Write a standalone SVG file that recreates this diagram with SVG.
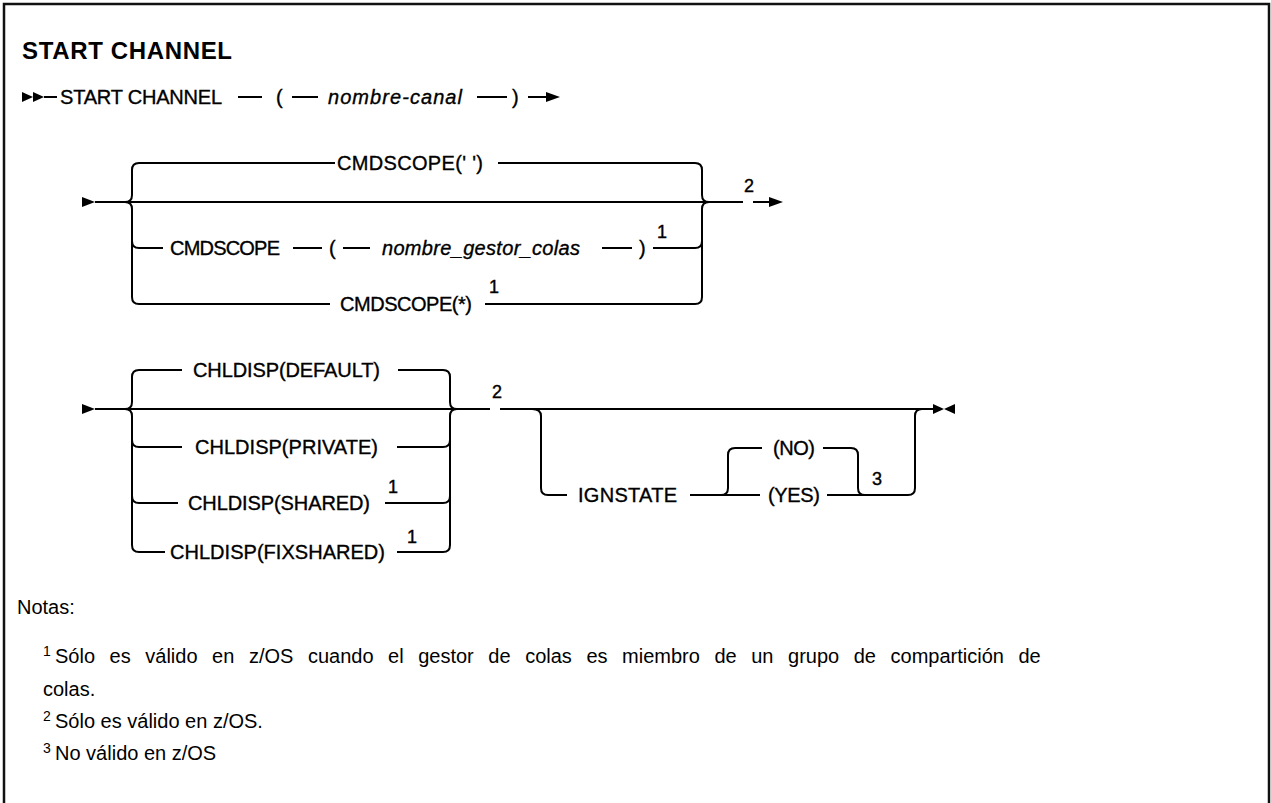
<svg xmlns="http://www.w3.org/2000/svg" width="1271" height="803" viewBox="0 0 1271 803">
<style>
.t{font-family:"Liberation Sans",Arial,sans-serif;font-size:20px;fill:#000;stroke:#000;stroke-width:0.35px}
.i{font-style:italic}
.ti{font-family:"Liberation Sans",Arial,sans-serif;font-size:24px;font-weight:bold;fill:#000}
.s{font-family:"Liberation Sans",Arial,sans-serif;font-size:18px;fill:#000;stroke:#000;stroke-width:0.4px}
.n{font-family:"Liberation Sans",Arial,sans-serif;font-size:20px;fill:#000}
.ns{font-family:"Liberation Sans",Arial,sans-serif;font-size:14px;fill:#000}
.c{fill:none;stroke:#000;stroke-width:2}
.m{fill:#000;stroke:none}
</style>
<rect x="0" y="0" width="1271" height="803" fill="#fff"/>
<path d="M4,803 V4 H1269 V803" fill="none" stroke="#111" stroke-width="2.5"/>
<text class="ti" x="22" y="59" textLength="210">START CHANNEL</text>

<g id="connectors">
  <!-- row 1 -->
  <polygon class="m" points="22,92 33,97 22,102"/>
  <polygon class="m" points="33,92 44,97 33,102"/>
  <path class="c" d="M44,97 H57 M238,97 H262 M292,97 H318 M477,97 H507 M528,97 H548"/>
  <polygon class="m" points="546,92 560,97 546,102"/>
  <!-- section 1 -->
  <polygon class="m" points="82,197 95,202 82,207"/>
  <path class="c" d="M95,202 H743 M753,202 H772"/>
  <polygon class="m" points="769,197 783,202 769,207"/>
  <path class="c" d="M125,202 Q132,202 132,195 V170 Q132,163 139,163 H335"/>
  <path class="c" d="M125,202 Q132,202 132,209 V297 Q132,304 139,304 H330"/>
  <path class="c" d="M132,241 Q132,248 139,248 H163"/>
  <path class="c" d="M498,163 H695 Q702,163 702,170 V195 Q702,202 709,202"/>
  <path class="c" d="M485,304 H695 Q702,304 702,297 V209 Q702,202 709,202"/>
  <path class="c" d="M653,248 H695 Q702,248 702,241"/>
  <path class="c" d="M293,248 H322 M343,248 H370 M602,248 H632"/>
  <!-- section 2 -->
  <polygon class="m" points="82,404 95,409 82,414"/>
  <path class="c" d="M95,409 H490 M500,409 H933"/>
  <path class="c" d="M125,409 Q132,409 132,402 V377 Q132,370 139,370 H182"/>
  <path class="c" d="M125,409 Q132,409 132,416 V545 Q132,552 139,552 H165"/>
  <path class="c" d="M132,440 Q132,447 139,447 H182"/>
  <path class="c" d="M132,496 Q132,503 139,503 H178"/>
  <path class="c" d="M398,370 H443 Q450,370 450,377 V402 Q450,409 457,409"/>
  <path class="c" d="M397,552 H443 Q450,552 450,545 V416 Q450,409 457,409"/>
  <path class="c" d="M397,447 H443 Q450,447 450,440"/>
  <path class="c" d="M385,503 H443 Q450,503 450,496"/>
  <!-- ignstate -->
  <path class="c" d="M532,409 Q541,409 541,416 V488 Q541,495 548,495 H567"/>
  <path class="c" d="M690,495 H760"/>
  <path class="c" d="M721,495 Q728,495 728,488 V455 Q728,448 735,448 H762"/>
  <path class="c" d="M823,448 H851 Q858,448 858,455 V488 Q858,495 865,495"/>
  <path class="c" d="M827,495 H908 Q915,495 915,488 V416 Q915,409 922,409"/>
  <polygon class="m" points="933,404 944,409 933,414"/>
  <polygon class="m" points="955,404 944,409 955,414"/>
</g>

<g id="start-channel"><text class="t" x="60" y="104" textLength="162">START CHANNEL</text></g>
<g id="paren-open-1"><text class="t" x="276" y="104">(</text></g>
<g id="nombre-canal"><text class="t i" x="328" y="104" textLength="134">nombre-canal</text></g>
<g id="paren-close-1"><text class="t" x="512" y="104">)</text></g>

<g id="cmdscope-blank"><text class="t" x="337" y="170" textLength="146">CMDSCOPE(' ')</text></g>
<g id="cmdscope"><text class="t" x="170" y="255" textLength="110">CMDSCOPE</text></g>
<g id="paren-open-2"><text class="t" x="329" y="255">(</text></g>
<g id="nombre-gestor"><text class="t i" x="382" y="255" textLength="198">nombre_gestor_colas</text></g>
<g id="paren-close-2"><text class="t" x="639" y="255">)</text><text class="s" x="657" y="238">1</text></g>
<g id="cmdscope-star"><text class="t" x="340" y="311" textLength="132">CMDSCOPE(*)</text><text class="s" x="489" y="293">1</text></g>
<g id="note-ref-2a"><text class="s" x="744" y="192">2</text></g>

<g id="chldisp-default"><text class="t" x="193" y="377" textLength="187">CHLDISP(DEFAULT)</text></g>
<g id="chldisp-private"><text class="t" x="195" y="454" textLength="183">CHLDISP(PRIVATE)</text></g>
<g id="chldisp-shared"><text class="t" x="188" y="510" textLength="182">CHLDISP(SHARED)</text><text class="s" x="388" y="493">1</text></g>
<g id="chldisp-fixshared"><text class="t" x="170" y="559" textLength="215">CHLDISP(FIXSHARED)</text><text class="s" x="407" y="543">1</text></g>
<g id="note-ref-2b"><text class="s" x="492" y="398">2</text></g>

<g id="ignstate"><text class="t" x="578" y="502" textLength="99">IGNSTATE</text></g>
<g id="ign-no"><text class="t" x="773" y="455" textLength="42">(NO)</text></g>
<g id="ign-yes"><text class="t" x="768" y="502" textLength="52">(YES)</text><text class="s" x="872" y="485">3</text></g>

<g id="notes">
  <text class="n" x="17" y="614">Notas:</text>
  <text class="ns" x="43" y="656">1</text>
  <text class="n" x="55" y="663" word-spacing="9">Sólo es válido en z/OS cuando el gestor de colas es miembro de un grupo de compartición de</text>
  <text class="n" x="43" y="696">colas.</text>
  <text class="ns" x="43" y="721">2</text>
  <text class="n" x="55" y="728">Sólo es válido en z/OS.</text>
  <text class="ns" x="43" y="753">3</text>
  <text class="n" x="55" y="760">No válido en z/OS</text>
</g>
</svg>
